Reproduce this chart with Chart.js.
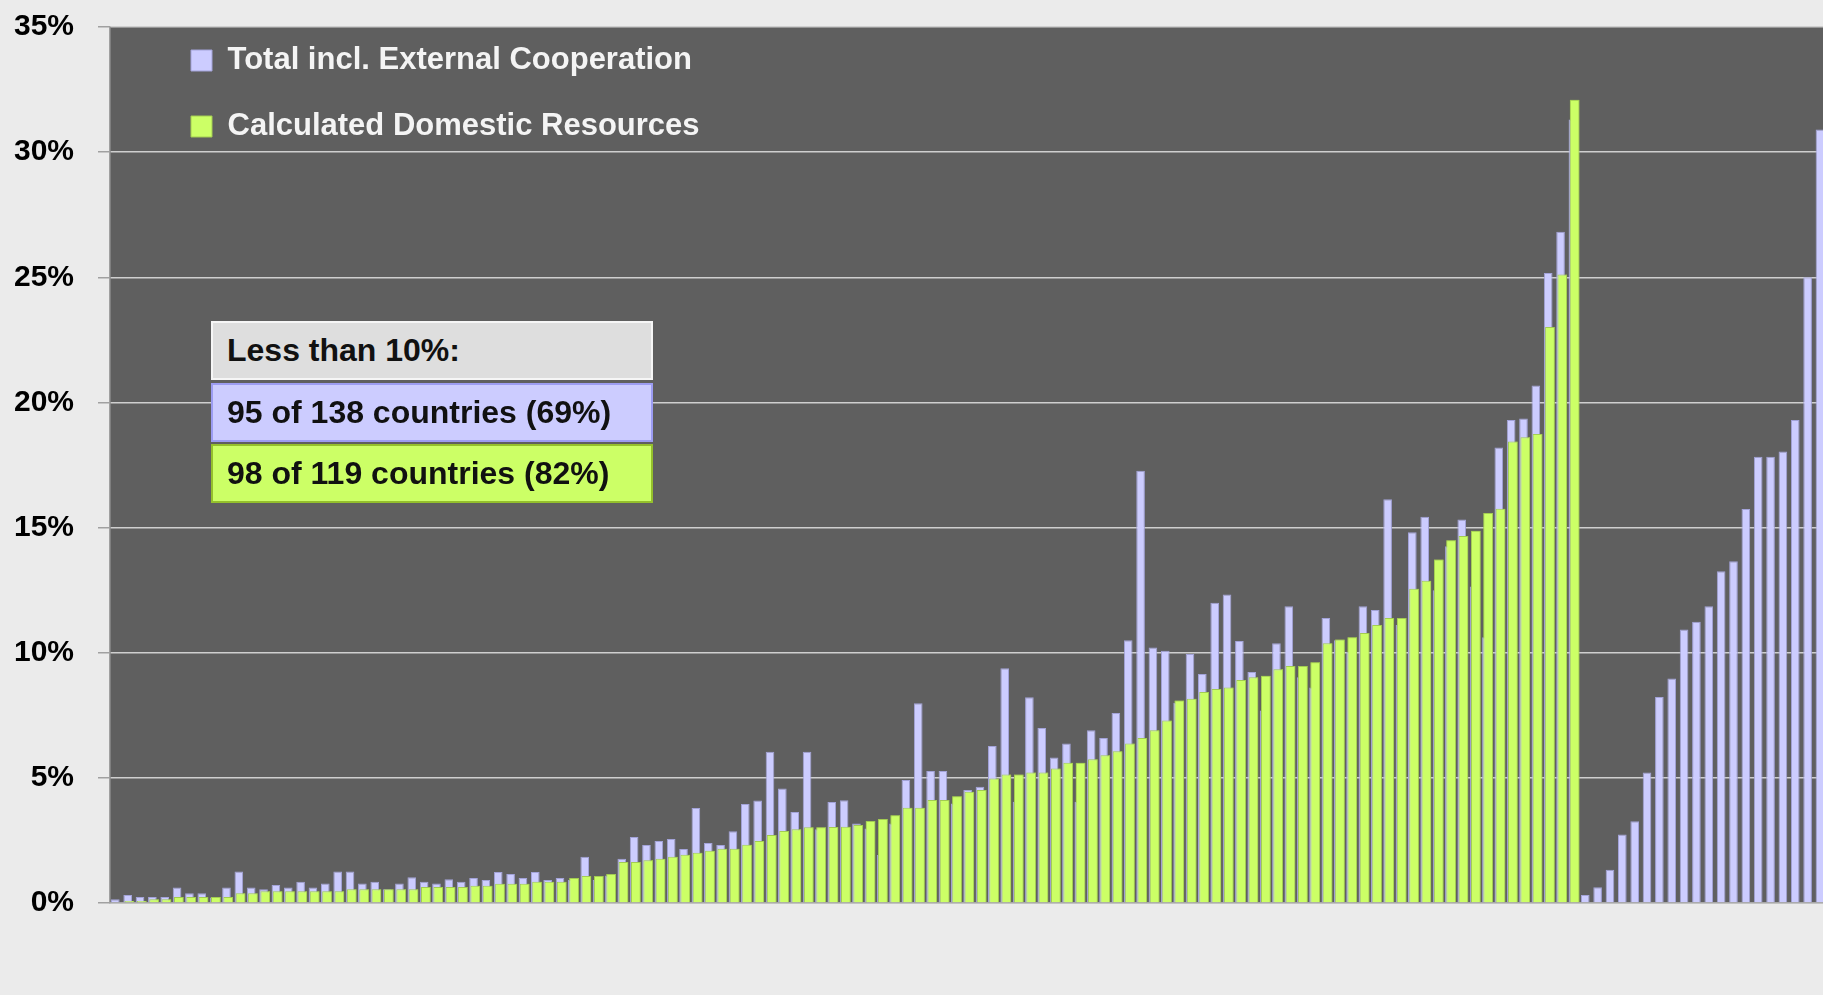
<!DOCTYPE html>
<html>
<head>
<meta charset="utf-8">
<script src="https://cdn.jsdelivr.net/npm/chart.js@4.4.1/dist/chart.umd.min.js"></script>
<style>
html, body { margin: 0; padding: 0; background: #ebebeb; overflow: hidden; width: 1823px; height: 995px; }
#wrap { position: absolute; left: 0; top: 0; width: 1827px; height: 995px; }
.note { position: absolute; left: 211px; width: 442px; height: 59px; box-sizing: border-box;
        font: bold 32px "Liberation Sans", Arial, sans-serif; color: #111; padding-left: 14px; line-height: 55px; white-space: nowrap; }
</style>
</head>
<body>
<div id="wrap"><canvas id="c" width="1827" height="995"></canvas></div>
<div class="note" style="top:321px;background:#dedede;border:2px solid #f6f6f6;">Less than 10%:</div>
<div class="note" style="top:383px;background:#ccccff;border:2px solid #9c9cf2;">95 of 138 countries (69%)</div>
<div class="note" style="top:444px;background:#ccff66;border:2px solid #94c02c;">98 of 119 countries (82%)</div>
<script>
// ---- data ----
const seriesNames = ['Total incl. External Cooperation', 'Calculated Domestic Resources'];

const totalInclExternal = [
  0.15, 0.32, 0.24, 0.24, 0.24, 0.62, 0.39, 0.39, 0.22, 0.62,
  1.26, 0.62, 0.55, 0.72, 0.62, 0.85, 0.62, 0.78, 1.26, 1.26,
  0.78, 0.85, 0.55, 0.78, 1.03, 0.85, 0.78, 0.95, 0.85, 1.00,
  0.92, 1.24, 1.16, 1.00, 1.24, 0.92, 1.00, 0.92, 1.85, 0.92,
  1.10, 1.77, 2.64, 2.32, 2.48, 2.56, 2.16, 3.80, 2.40, 2.32,
  2.87, 3.96, 4.10, 6.04, 4.57, 3.64, 6.04, 2.95, 4.04, 4.11,
  3.18, 2.98, 1.92, 3.18, 4.91, 7.98, 5.27, 5.27, 3.98, 4.51,
  4.64, 6.27, 9.38, 4.05, 8.22, 6.99, 5.81, 6.37, 4.05, 6.90,
  6.59, 7.59, 10.50, 17.27, 10.21, 10.08, 8.00, 9.95, 9.15, 12.00,
  12.33, 10.47, 9.23, 7.69, 10.38, 11.86, 9.02, 8.61, 11.39, 10.50,
  10.04, 11.86, 11.71, 16.13, 11.11, 14.81, 15.43, 12.50, 14.25, 15.32,
  12.65, 10.62, 18.20, 19.30, 19.36, 20.68, 25.17, 26.82, 31.30, 0.32,
  0.63, 1.33, 2.74, 3.27, 5.21, 8.23, 8.97, 10.93, 11.24, 11.86,
  13.25, 13.65, 15.74, 17.83, 17.83, 18.04, 19.30, 25.00, 30.90
];

const domesticResources = [
  0.00, 0.08, 0.08, 0.15, 0.15, 0.24, 0.24, 0.24, 0.24, 0.24,
  0.39, 0.39, 0.47, 0.47, 0.47, 0.47, 0.47, 0.47, 0.47, 0.55,
  0.55, 0.55, 0.55, 0.55, 0.55, 0.64, 0.64, 0.64, 0.64, 0.69,
  0.69, 0.77, 0.77, 0.77, 0.85, 0.85, 0.85, 1.00, 1.08, 1.08,
  1.16, 1.64, 1.64, 1.71, 1.77, 1.85, 1.93, 2.01, 2.09, 2.17,
  2.17, 2.33, 2.48, 2.72, 2.88, 2.95, 3.03, 3.03, 3.04, 3.05,
  3.12, 3.28, 3.36, 3.51, 3.81, 3.81, 4.12, 4.12, 4.27, 4.44,
  4.51, 4.97, 5.13, 5.13, 5.21, 5.21, 5.37, 5.60, 5.60, 5.74,
  5.90, 6.06, 6.37, 6.59, 6.90, 7.29, 8.09, 8.16, 8.43, 8.55,
  8.61, 8.91, 9.02, 9.08, 9.34, 9.47, 9.47, 9.62, 10.38, 10.53,
  10.62, 10.79, 11.11, 11.39, 11.39, 12.56, 12.88, 13.72, 14.49, 14.66,
  14.87, 15.58, 15.75, 18.44, 18.61, 18.74, 23.01, 25.11, 32.09,
  null, null, null, null, null, null, null, null, null, null,
  null, null, null, null, null, null, null, null, null, null
];

// country labels in the reference are illegible; categories are kept as rank positions (labels hidden)
const categories = totalInclExternal.map((_, i) => String(i + 1));

const yTicks = [0, 5, 10, 15, 20, 25, 30, 35];

// ---- plugins ----
const plotBackground = {
  id: 'plotBackground',
  beforeDraw(chart) {
    const { ctx, chartArea: a } = chart;
    ctx.save();
    ctx.fillStyle = '#5f5f5f';
    ctx.fillRect(a.left, a.top, a.right - a.left, a.bottom - a.top);
    ctx.restore();
  }
};

const legendPlacement = {
  id: 'legendPlacement',
  afterLayout(chart) {
    const lg = chart.legend;
    if (!lg) return;
    const pad = lg.options.labels.padding;
    lg.left = 191 - pad;
    lg.top = 45 - pad;
    lg.width = 720; lg.height = 300;
    lg.right = lg.left + 720;
    lg.bottom = lg.top + 300;
  }
};

const domesticOnTop = {
  id: 'domesticOnTop',
  afterDatasetsDraw(chart) {
    const meta = chart.getDatasetMeta(1);
    if (meta && !meta.hidden) {
      chart.ctx.save();
      meta.controller.draw();
      chart.ctx.restore();
    }
  }
};

new Chart(document.getElementById('c'), {
  type: 'bar',
  data: {
    labels: categories,
    datasets: [
      {
        label: seriesNames[0],
        data: totalInclExternal,
        backgroundColor: '#ccccff',
        borderColor: '#a3a3d9',
        borderWidth: 1,
        categoryPercentage: 0.28,
        barPercentage: 5.0
      },
      {
        label: seriesNames[1],
        data: domesticResources,
        backgroundColor: '#ccff66',
        borderColor: '#a3cc52',
        borderWidth: 1,
        categoryPercentage: 0.28,
        barPercentage: 5.6
      }
    ]
  },
  options: {
    responsive: false,
    animation: false,
    devicePixelRatio: 1,
    layout: { padding: { left: 0, top: 27, right: 0, bottom: 0 } },
    plugins: {
      legend: {
        position: 'chartArea',
        align: 'start',
        labels: {
          boxWidth: 21,
          boxHeight: 21,
          padding: 35,
          color: '#f4f4f4',
          textAlign: 'left',
          font: { family: '"Liberation Sans", Arial, sans-serif', size: 31, weight: 'bold' }
        }
      },
      tooltip: { enabled: false }
    },
    scales: {
      x: {
        type: 'category',
        offset: true,
        grid: { display: false },
        border: { display: true, color: '#a8a8a8', width: 1.5 },
        ticks: { display: false },
        afterFit(scale) { scale.height = 92; }
      },
      y: {
        min: 0,
        max: 35,
        afterBuildTicks(scale) { scale.ticks = yTicks.map(v => ({ value: v })); },
        grid: { color: '#cfcfcf', lineWidth: 1.5, tickLength: 12, tickColor: '#a0a0a0', drawTicks: true },
        border: { display: true, color: '#a0a0a0', width: 1.5 },
        ticks: {
          padding: 24,
          color: '#000',
          font: { family: '"Liberation Sans", Arial, sans-serif', size: 30, weight: 'bold' },
          callback: (v) => v + '%'
        },
        afterFit(scale) { scale.width = 110; scale.paddingTop = 0; scale.paddingBottom = 0; }
      }
    }
  },
  plugins: [plotBackground, legendPlacement, domesticOnTop]
});
</script>
</body>
</html>
